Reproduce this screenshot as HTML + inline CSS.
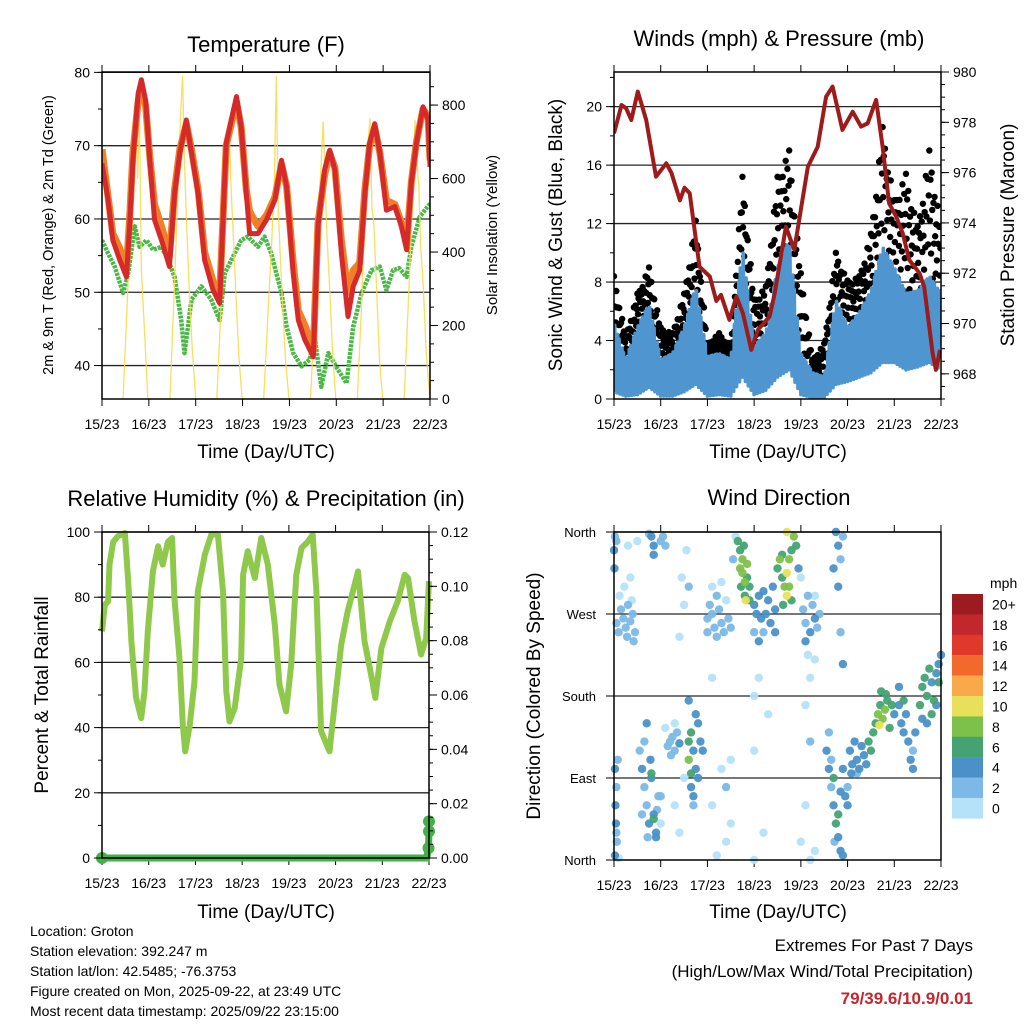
<!DOCTYPE html>
<html><head><meta charset="utf-8">
<style>
html,body{margin:0;padding:0;background:#fff;}
svg{display:block;font-family:"Liberation Sans",sans-serif;}
</style></head>
<body>
<svg id="c" width="1024" height="1024" viewBox="0 0 1024 1024">
  <text x="266" y="52" font-size="22" text-anchor="middle">Temperature (F)</text>
  <text x="779" y="46" font-size="22" text-anchor="middle">Winds (mph) &amp; Pressure (mb)</text>
  <text x="266" y="506" font-size="22" text-anchor="middle">Relative Humidity (%) &amp; Precipitation (in)</text>
  <text x="779" y="505" font-size="22" text-anchor="middle">Wind Direction</text>

  <text transform="translate(53,235) rotate(-90)" font-size="14.5" text-anchor="middle">2m &amp; 9m T (Red, Orange) &amp; 2m Td (Green)</text>
  <text transform="translate(497,235) rotate(-90)" font-size="15" text-anchor="middle">Solar Insolation (Yellow)</text>
  <text transform="translate(562,235) rotate(-90)" font-size="19" text-anchor="middle">Sonic Wind &amp; Gust (Blue, Black)</text>
  <text transform="translate(1014,235) rotate(-90)" font-size="19" text-anchor="middle">Station Pressure (Maroon)</text>
  <text transform="translate(48,695) rotate(-90)" font-size="19" text-anchor="middle">Percent &amp; Total Rainfall</text>
  <text transform="translate(540,696) rotate(-90)" font-size="19" text-anchor="middle">Direction (Colored By Speed)</text>

  <text x="266" y="458" font-size="19" text-anchor="middle">Time (Day/UTC)</text>
  <text x="778" y="458" font-size="19" text-anchor="middle">Time (Day/UTC)</text>
  <text x="266" y="918" font-size="19" text-anchor="middle">Time (Day/UTC)</text>
  <text x="778" y="918" font-size="19" text-anchor="middle">Time (Day/UTC)</text>

  <g font-size="14">
    <text x="30" y="936">Location: Groton</text>
    <text x="30" y="956">Station elevation: 392.247 m</text>
    <text x="30" y="976">Station lat/lon: 42.5485; -76.3753</text>
    <text x="30" y="996">Figure created on Mon, 2025-09-22, at 23:49 UTC</text>
    <text x="30" y="1016">Most recent data timestamp: 2025/09/22 23:15:00</text>
  </g>
  <g font-size="17" text-anchor="end">
    <text x="973" y="951">Extremes For Past 7 Days</text>
    <text x="973" y="977">(High/Low/Max Wind/Total Precipitation)</text>
    <text x="973" y="1004" fill="#c1272d" font-weight="bold">79/39.6/10.9/0.01</text>
  </g>
</svg>
<script>
// ---------- DATA ----------
const dayLabels = ["15/23","16/23","17/23","18/23","19/23","20/23","21/23","22/23"];
const tRedDays = [0,0.13,0.23,0.38,0.52,0.59,0.66,0.77,0.84,0.93,1.02,1.12,1.27,1.44,1.55,1.66,1.8,1.91,2.05,2.19,2.37,2.51,2.65,2.76,2.87,2.97,3.08,3.15,3.33,3.51,3.69,3.83,3.94,4.08,4.19,4.33,4.51,4.61,4.75,4.86,4.97,5.11,5.25,5.36,5.5,5.61,5.71,5.82,5.93,6.07,6.25,6.39,6.5,6.6,6.71,6.85,6.96,7.0];
const tRedVals = [67.6,62.6,57.1,54.4,52.1,59,68,77.1,79,76.2,68,59.9,57.1,53.5,63.5,69,73.5,69,63.5,54.4,50.3,48.5,70.3,73.5,76.7,72.6,63.5,58,58,59.9,62.6,68,64.4,52.6,46.2,43.5,41.2,59,66.7,69.4,66.7,55.3,46.7,50.8,53,63.5,70.3,73,69,61.2,61.7,59,55.8,64.9,70.3,75.3,73.5,67.1];
const tOrangeVals = [69.5,63,58,56,53,60,69,76,78,75.5,68.5,62,59,55,64,69.5,73,69.5,64,55.5,51.5,49.5,70,73,76,72.5,64,61,59,60.5,63,67.5,64.5,54,47.5,45.5,42,59.5,66,69,67,57,50,53,54,64,70,72.5,69,62.5,62,59.5,56.5,65,70.5,75,74,68];
const tdDays = [0,0.13,0.27,0.45,0.56,0.7,0.8,0.95,1.09,1.27,1.41,1.55,1.69,1.76,1.91,2.12,2.33,2.51,2.62,2.76,2.97,3.11,3.33,3.47,3.61,3.83,3.94,4.08,4.26,4.43,4.54,4.68,4.83,5.04,5.22,5.36,5.54,5.75,5.93,6.07,6.21,6.34,6.5,6.6,6.78,7.0];
const tdVals = [57.1,55.3,53.5,49.9,52.6,59,56.2,57.1,55.8,56.2,54.4,52.1,46.2,41.7,49,50.8,49,46.2,52.6,54.4,57.1,57.6,56.2,57.6,55.3,49.9,45.3,41.7,39.9,40.8,44,37.1,41.7,39.4,37.6,45.3,49.9,53,53.5,50.3,53,53.3,52.1,56.2,60.3,62.1];
const solarDays = [0.45,0.55,0.62,0.68,0.72,0.76,0.8,0.84,0.9,0.98, 1.45,1.55,1.62,1.68,1.72,1.76,1.8,1.86,1.92,2.0, 2.45,2.55,2.62,2.68,2.72,2.76,2.8,2.86,2.92,2.99, 3.45,3.55,3.62,3.68,3.72,3.76,3.8,3.86,3.92,3.99, 4.45,4.55,4.62,4.68,4.72,4.76,4.8,4.86,4.92,4.99, 5.45,5.55,5.62,5.68,5.72,5.76,5.8,5.86,5.92,5.99, 6.45,6.55,6.62,6.68,6.72,6.76,6.8,6.86,6.92,7.0];
const solarVals = [0,300,520,700,820,600,760,350,200,0, 0,320,560,780,880,640,500,300,150,0, 0,280,480,620,700,560,450,280,120,0, 0,250,420,600,880,520,400,240,100,0, 0,260,500,650,755,600,450,300,130,0, 0,290,560,700,764,520,480,300,110,0, 0,300,520,760,650,580,420,300,120,0];
const windDays = [0,0.25,0.5,0.75,1,1.25,1.5,1.75,2,2.25,2.5,2.75,3,3.25,3.5,3.75,4,4.25,4.5,4.75,5,5.25,5.5,5.75,6,6.25,6.5,6.75,7];
const gustHi = [8.4,4.3,7.2,9.0,4.9,4.5,7.2,12.2,3.8,4.5,3.6,15.2,6.8,7.7,15.2,17.0,8.6,2.7,3.8,10.0,8.1,8.4,11.3,18.6,13.6,15.4,11.8,17.0,11.8];
const windHi = [5.2,2.7,4.9,6.5,2.7,3.1,4.9,7.7,2.9,3.1,2.7,10.4,3.6,4.5,9.0,10.9,3.1,1.8,1.5,6.8,4.9,5.9,7.4,10.4,9.0,7.2,7.4,8.4,7.2];
const windLo = [0.5,0.2,0.3,0.8,0.2,0.2,0.5,1.0,0.2,0.3,0.2,1.5,0.3,0.6,1.5,2.0,0.3,0.1,0.1,1.0,1.2,1.5,1.8,2.5,2.5,2.0,2.2,2.5,2.0];
const presDays = [0,0.16,0.26,0.37,0.51,0.69,0.9,1.12,1.23,1.41,1.51,1.62,1.83,2.05,2.19,2.29,2.47,2.62,2.76,2.94,3.08,3.33,3.44,3.68,3.86,4.15,4.36,4.54,4.68,4.89,5.11,5.29,5.43,5.61,5.75,5.89,6.04,6.18,6.32,6.54,6.64,6.82,6.89,6.98];
const presVals = [977.56,978.69,978.56,978.09,979.22,978.09,975.84,976.37,975.98,974.9,975.4,975.18,972.26,971.87,970.9,971.14,970.15,971.07,970.41,968.95,969.75,970.28,971.2,973.85,972.93,976.24,977.03,979.02,979.42,977.7,978.42,977.83,977.96,978.89,977.03,974.78,974.25,973.59,972.53,972.0,971.47,968.82,968.16,968.95];
const rhDays = [0,0.06,0.13,0.16,0.24,0.34,0.49,0.56,0.63,0.73,0.84,0.91,0.98,1.09,1.2,1.3,1.41,1.5,1.55,1.66,1.73,1.78,1.88,1.98,2.05,2.2,2.34,2.48,2.59,2.66,2.73,2.84,2.98,3.02,3.12,3.27,3.41,3.55,3.7,3.8,3.94,4.05,4.16,4.27,4.41,4.51,4.59,4.69,4.87,5.01,5.12,5.26,5.37,5.48,5.62,5.76,5.85,5.98,6.16,6.33,6.48,6.55,6.69,6.83,6.94,7.0];
const rhVals = [69.5,77.7,78.7,90,97,98.7,99.7,84.9,66.5,49.1,42.9,51.1,69.5,87.9,95.6,90,97,98.2,79.8,61.3,40.9,32.7,40.9,54.2,81.8,93,99.2,99.2,81.8,51.1,41.9,46,61.3,86.9,94.1,85.9,98.2,90,71.6,53.2,45,59.3,86.9,95.1,97.1,99.2,81.8,38.9,32.7,51.1,65.4,75.7,81.8,87.9,66.5,56.2,49.1,64.4,72.6,78.7,86.9,85.9,72.6,62.4,67.5,84.9];
const precipDays = [0,1,2,3,4,5,6,6.95,6.99,7.0,7.0];
const precipVals = [0,0,0,0,0,0,0,0,0.0037,0.0098,0.0135];
const dirDays = [0.05,0.1,0.15,0.2,0.25,0.3,0.35,0.4,0.45,0.12,0.28,0.38,0.22,0.42,0,0.02,0.01,0.05,0.3,0.5,0.35,
0.02,0.05,0.03,0.04,0.06,0.02,0.08,0.05,0.1,
0.55,0.6,0.65,0.7,0.75,0.8,0.85,0.9,0.95,0.85,0.8,0.7,0.65,0.9,1.0,1.0,0.6,0.72,0.78,0.92,
0.8,0.85,0.85,1.05,1.1,0.75,1.0,
1.15,1.2,1.25,1.3,1.35,1.4,1.1,1.22,1.3,
1.6,1.65,1.6,1.7,1.75,1.8,1.65,1.7,1.75,1.6,1.7,1.85,1.8,1.9,1.65,
1.5,1.3,1.4,1.5,1.45,1.55,1.6,1.4,
2.0,2.05,2.1,2.15,2.2,2.25,2.3,2.35,2.4,2.45,2.5,2.1,2.3,2.0,2.2,
2.1,2.3,2.5,2.4,2.5,2.4,2.2,2.1,
2.65,2.7,2.75,2.7,2.75,2.8,2.85,2.72,2.8,2.9,2.85,2.78,2.9,2.82,2.6,2.55,
3.0,3.05,3.1,3.15,3.2,3.25,3.3,3.35,3.4,3.45,3.0,3.2,3.1,3.45,
3.0,3.1,3.0,3.0,3.2,3.3,
3.5,3.55,3.6,3.65,3.7,3.75,3.8,3.85,3.6,3.7,3.75,3.8,3.9,3.95,3.7,3.62,
4.05,4.1,4.15,4.2,4.25,4.3,4.35,4.4,4.1,4.3,4.15,4.0,4.2,
4.1,4.2,4.1,4.0,4.2,4.3,4.3,
4.55,4.6,4.65,4.7,4.75,4.8,4.85,4.9,4.95,5.0,4.7,4.8,4.6,4.9,4.72,5.0,4.65,4.85,
4.75,4.8,4.85,4.8,4.9,4.7,4.9,4.85,
5.05,5.1,5.15,5.2,5.25,5.3,5.35,5.4,5.45,5.5,5.08,5.2,
5.55,5.6,5.65,5.7,5.75,5.8,5.85,5.9,5.95,6.0,5.72,5.68,5.82,
6.1,6.15,6.2,6.25,6.3,6.35,6.4,6.45,6.1,6.2,6.4,
6.55,6.6,6.65,6.7,6.75,6.8,6.85,6.9,6.95,7.0,6.6,6.8,6.9,6.7,6.95];
const dirDeg = [260,250,275,265,255,280,262,270,250,290,245,285,300,240,340,355,320,350,345,350,310,
100,80,60,40,20,5,110,30,2,
120,100,80,60,40,90,50,30,70,45,95,150,130,25,70,40,50,25,110,55,
355,345,335,355,345,358,350,
125,130,135,120,140,128,145,115,150,
130,140,110,120,100,90,80,70,160,175,60,130,150,120,95,
90,60,30,280,310,340,300,245,
265,280,270,255,290,275,260,250,285,265,255,300,305,250,245,
60,100,110,80,40,20,5,200,
350,340,330,320,315,305,310,300,290,300,325,345,285,285,355,330,
280,270,290,265,295,270,285,260,300,275,250,250,240,250,
180,200,120,0,30,160,
320,330,310,300,290,330,340,355,335,315,300,285,345,320,360,280,
275,260,290,250,280,265,255,270,240,290,225,310,200,
170,130,60,20,0,10,220,
120,100,80,60,40,25,10,5,70,60,90,50,140,100,20,80,110,75,
360,345,330,300,355,320,215,250,
120,105,130,110,100,125,115,105,130,120,95,95,
140,150,160,170,155,165,175,145,170,160,185,148,182,
170,150,140,160,130,110,120,140,190,175,100,
170,190,200,180,210,195,175,205,215,225,155,160,170,150,195];
const dirSpd = [2,3,2,3,2,2,3,2,2,1,2,1,1,2,4,3,4,2,1,1,1,
4,3,4,4,3,4,3,2,1,
3,4,3,2,4,4,4,4,3,6,6,4,2,4,2,1,3,3,4,3,
4,4,4,2,2,3,2,
2,2,2,2,3,4,1,2,1,
6,6,8,4,4,4,4,4,4,4,3,4,4,4,6,
1,1,1,1,1,1,2,1,
2,2,3,2,2,2,3,2,1,2,2,1,1,2,3,
1,1,1,2,1,1,1,1,
7,6,8,8,9,8,7,6,6,7,8,6,6,10,1,2,
4,5,4,4,5,4,4,4,4,4,3,3,4,4,
1,1,1,1,1,1,
6,8,7,9,10,8,7,8,7,10,8,7,6,4,10,6,
3,2,2,4,3,4,3,2,4,1,1,1,1,
1,2,1,1,1,1,1,
4,4,3,4,6,4,4,4,4,4,6,6,2,4,3,3,3,5,
4,4,3,4,3,4,4,2,
4,4,4,4,4,4,5,4,6,6,4,3,
6,7,8,7,8,9,6,6,6,4,7,10,6,
4,4,5,4,4,4,3,4,4,6,4,
6,7,6,7,6,4,6,5,4,4,4,6,4,4,6];
const cbLabels = ["20+","18","16","14","12","10","8","6","4","2","0"];
const cbColors = ["#9b1b1e","#c1272d","#e0392b","#f26a2b","#f9a94a","#e8e05a","#7ec14a","#45a373","#4a91c8","#7cb9e6","#b5e2f8"];

// ---------- RENDER ----------
const NS="http://www.w3.org/2000/svg";
const svg=document.getElementById('c');
function mk(tag,attrs,parent){const e=document.createElementNS(NS,tag);for(const k in attrs)e.setAttribute(k,attrs[k]);(parent||svg).appendChild(e);return e;}
function lin(d0,d1,r0,r1){return v=>r0+(v-d0)/(d1-d0)*(r1-r0);}
function pts(xs,ys,fx,fy){return xs.map((x,i)=>fx(x).toFixed(1)+','+fy(ys[i]).toFixed(1)).join(' ');}

function frame(P,name){
  const g=mk('g',{});
  
  
  for(let d=0;d<=7;d++){
    const x=P.fx(d);
    mk('line',{x1:x,y1:P.y1,x2:x,y2:P.y1+7,stroke:'#000','stroke-width':1},g);
    mk('line',{x1:x,y1:P.y0,x2:x,y2:P.y0-7,stroke:'#000','stroke-width':1},g);
    const t=mk('text',{x:x,y:P.y1+30,'font-size':14,'text-anchor':'middle'},g);
    t.textContent=dayLabels[d];
    
    
  }
  return g;
}
function grid(P,vals,fy){
  vals.forEach(v=>{const y=fy(v);mk('line',{x1:P.x0,y1:y,x2:P.x1,y2:y,stroke:'#000','stroke-width':1.3,opacity:0.85});});
}
function yAxis(P,side,fy,majors,labels,minors){
  const g=mk('g',{});
  
  
  const x=side==='left'?P.x0:P.x1, dir=side==='left'?-1:1;
  minors.forEach(v=>{const y=fy(v);mk('line',{x1:x,y1:y,x2:x+dir*4,y2:y,stroke:'#000','stroke-width':1},g);});
  majors.forEach((v,i)=>{const y=fy(v);mk('line',{x1:x,y1:y,x2:x+dir*8,y2:y,stroke:'#000','stroke-width':1},g);
    const t=mk('text',{x:x+dir*12,y:y+5,'font-size':14,'text-anchor':side==='left'?'end':'start'},g);t.textContent=labels[i];
    
    });
}
function box(P){mk('rect',{x:P.x0,y:P.y0,width:P.x1-P.x0,height:P.y1-P.y0,fill:'none',stroke:'#000','stroke-width':1.5});}
function range(a,b,s){const r=[];for(let v=a;v<=b+1e-9;v+=s)r.push(+v.toFixed(4));return r;}

// ---- Temperature panel ----
(function(){
  const P={x0:102,x1:430,y0:72,y1:399};P.fx=lin(0,7,P.x0,P.x1);
  const fy=lin(35.44,80.05,P.y1,P.y0), fs=lin(0,890,P.y1,P.y0);
  frame(P,'temperature');
  grid(P,[40,50,60,70,80],fy);
  const cl=mk('clipPath',{id:'clipT'});mk('rect',{x:P.x0,y:P.y0,width:P.x1-P.x0,height:P.y1-P.y0},cl);
  const g=mk('g',{'clip-path':'url(#clipT)'});
  let e=mk('polyline',{points:pts(tdDays,tdVals,P.fx,fy),fill:'none',stroke:'#4db848','stroke-width':4.5,'stroke-dasharray':'3 1','stroke-linejoin':'round'},g);
  
  e=mk('polyline',{points:pts(solarDays,solarVals,P.fx,fs),fill:'none',stroke:'#f7dc4a','stroke-width':1.3,opacity:0.9},g);
  
  e=mk('polyline',{points:pts(tRedDays,tOrangeVals,P.fx,fy),fill:'none',stroke:'#f07f2a','stroke-width':7,'stroke-linejoin':'round'},g);
  
  e=mk('polyline',{points:pts(tRedDays,tRedVals,P.fx,fy),fill:'none',stroke:'#d42a2a','stroke-width':5,'stroke-linejoin':'round'},g);
  
  box(P);
  yAxis(P,'left',fy,[40,50,60,70,80],['40','50','60','70','80'],range(40,80,5));
  yAxis(P,'right',fs,[0,200,400,600,800],['0','200','400','600','800'],range(0,850,50));
})();

// ---- Winds panel ----
(function(){
  const P={x0:614,x1:941,y0:72,y1:399};P.fx=lin(0,7,P.x0,P.x1);
  const fy=lin(0,22.37,P.y1,P.y0), fp=lin(967,980,P.y1,P.y0);
  frame(P,'winds');
  grid(P,[4,8,12,16,20],fy);
  const cl=mk('clipPath',{id:'clipW'});mk('rect',{x:P.x0,y:P.y0,width:P.x1-P.x0,height:P.y1-P.y0},cl);
  const g=mk('g',{'clip-path':'url(#clipW)'});
  const gg=mk('g',{},g);
  const fr=[1,0.55,0.85,0.35,0.95,0.7,0.2,0.8,0.5,0.9,0.6,0.3,0.75,0.45,0.98,0.65,0.15,0.88,0.4,0.72];
  for(let i=0;i<windDays.length-1;i++){
    for(let k=0;k<fr.length;k++){
      const t=k/fr.length, d=windDays[i]+t*(windDays[i+1]-windDays[i]);
      const hi=gustHi[i]+t*(gustHi[i+1]-gustHi[i]), lo=0.8*(windHi[i]+t*(windHi[i+1]-windHi[i]));
      const v=lo+fr[k]*(hi-lo);
      mk('circle',{cx:P.fx(d),cy:fy(v),r:3.2,fill:'#000'},gg);
    }
  }
  const bp=[];
  for(let i=0;i<windDays.length-1;i++){
    for(let k=0;k<16;k++){
      const t=k/16, d=windDays[i]+t*(windDays[i+1]-windDays[i]);
      const hi=windHi[i]+t*(windHi[i+1]-windHi[i]), lo=windLo[i]+t*(windLo[i+1]-windLo[i]);
      const v=(k%2===0)?lo+(k%4===0?0:0.3)*(hi-lo):hi-(k%3===0?0.25:0)*(hi-lo);
      bp.push(P.fx(d).toFixed(1)+','+fy(v).toFixed(1));
    }
  }
  let e=mk('polyline',{points:bp.join(' '),fill:'none',stroke:'#4f96d1','stroke-width':3.6,'stroke-linejoin':'round'},g);
  
  e=mk('polyline',{points:pts(presDays,presVals,P.fx,fp),fill:'none',stroke:'#9e1b1b','stroke-width':4,'stroke-linejoin':'round'},g);
  
  box(P);
  yAxis(P,'left',fy,[0,4,8,12,16,20],['0','4','8','12','16','20'],range(0,22,2));
  yAxis(P,'right',fp,[968,970,972,974,976,978,980],['968','970','972','974','976','978','980'],range(967,980,0.5));
})();

// ---- RH panel ----
(function(){
  const P={x0:102,x1:429,y0:532,y1:858};P.fx=lin(0,7,P.x0,P.x1);
  const fy=lin(0,100,P.y1,P.y0), fq=lin(0,0.12,P.y1,P.y0);
  frame(P,'humidity');
  grid(P,[20,40,60,80,100],fy);
  let e=mk('polyline',{points:pts(rhDays,rhVals,P.fx,fy),fill:'none',stroke:'#8fc94b','stroke-width':6,'stroke-linejoin':'round'});
  
  e=mk('polyline',{points:pts(precipDays,precipVals,P.fx,fq),fill:'none',stroke:'#45b04a','stroke-width':7});
  
  precipDays.forEach((d,i)=>{if(precipVals[i]>0||i===0){const c=mk('circle',{cx:P.fx(d),cy:fq(precipVals[i]),r:6,fill:'#45b04a'});
    }});
  box(P);
  yAxis(P,'left',fy,[0,20,40,60,80,100],['0','20','40','60','80','100'],range(0,100,10));
  yAxis(P,'right',fq,[0,0.02,0.04,0.06,0.08,0.1,0.12],['0.00','0.02','0.04','0.06','0.08','0.10','0.12'],range(0,0.12,0.005));
})();

// ---- Direction panel ----
(function(){
  const P={x0:614,x1:941,y0:532,y1:860};P.fx=lin(0,7,P.x0,P.x1);
  const fy=lin(0,360,P.y1,P.y0);
  frame(P,'direction');
  grid(P,[90,180,270,360],fy);
  const g=mk('g',{});
  const order=dirDays.map((d,i)=>i).sort((a,b)=>dirSpd[a]-dirSpd[b]);
  order.forEach(i=>{
    const bin=Math.min(10,Math.floor(dirSpd[i]/2));
    const c=mk('circle',{cx:P.fx(dirDays[i]),cy:fy(dirDeg[i]),r:4.2,fill:cbColors[10-bin],opacity:0.95},g);
    
  });
  box(P);
  const lab=['North','East','South','West','North'];
  [0,90,180,270,360].forEach((v,i)=>{const y=fy(v);mk('line',{x1:P.x0,y1:y,x2:P.x0-8,y2:y,stroke:'#000'});
    const t=mk('text',{x:P.x0-18,y:y+5,'font-size':13,'text-anchor':'end'});t.textContent=lab[i];
    });
  const cb=mk('g',{});
  const t0=mk('text',{x:990,y:588,'font-size':14},cb);t0.textContent='mph';
  cbColors.forEach((col,i)=>{const y=594+i*20.4;
    mk('rect',{x:952,y:y,width:31,height:20.6,fill:col},cb);
    const t=mk('text',{x:992,y:y+15.5,'font-size':14},cb);t.textContent=cbLabels[i];
    });
})();
</script>
</body></html>
